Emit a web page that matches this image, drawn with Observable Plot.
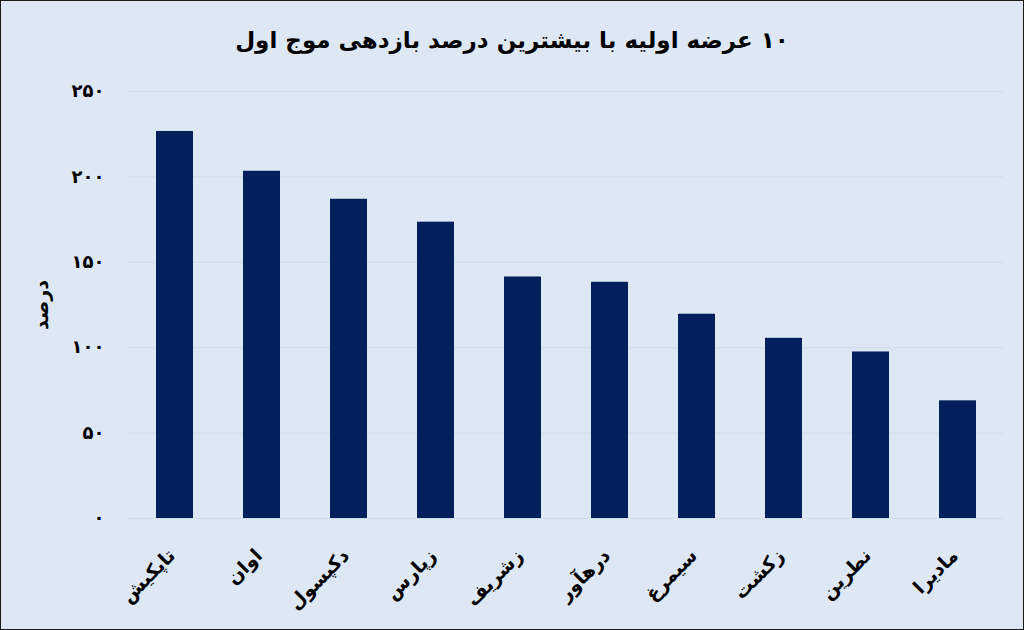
<!DOCTYPE html>
<html>
<head>
<meta charset="utf-8">
<script src="https://cdn.jsdelivr.net/npm/d3@7"></script>
<script src="https://cdn.jsdelivr.net/npm/@observablehq/plot@0.6"></script>
<style>
  html, body { margin: 0; padding: 0; background: #dde8f4; }
  #frame {
    width: 1024px; height: 630px; box-sizing: border-box;
    border: 1px solid #1a1a1a; background: #dde8f4; overflow: hidden; position: relative;
  }
  #title {
    height: 61px; line-height: 78px; text-align: center;
    font-family: "DejaVu Sans", sans-serif; font-weight: bold; font-size: 23px; color: #000;
    direction: rtl;
  }
  svg { display: block; }
</style>
</head>
<body>
<div id="frame">
  <div id="title">۱۰ عرضه اولیه با بیشترین درصد بازدهی موج اول</div>
  <div id="chart"></div>
</div>
<script>
const companies = ["تاپکیش", "اوان", "دکپسول", "زپارس", "زشریف", "درهآور", "سیمرغ", "زکشت", "نطرین", "مادیرا"];
const returns = [226.6, 203.3, 186.9, 173.5, 141.4, 138.3, 119.6, 105.5, 97.5, 68.9];
const yTicks = [0, 50, 100, 150, 200, 250];
const yLabel = "درصد";

const faDigits = "۰۱۲۳۴۵۶۷۸۹";
const fa = d => String(d).replace(/\d/g, c => faDigits[c]);

const data = companies.map((name, i) => ({name, value: returns[i]}));

const chart = Plot.plot({
  width: 1022,
  height: 567,
  marginLeft: 127,
  marginRight: 20,
  marginTop: 29,
  marginBottom: 111,
  style: {background: "transparent", fontFamily: "DejaVu Sans, sans-serif", color: "#000"},
  x: {domain: companies, paddingInner: 0.58, paddingOuter: 0.29},
  y: {domain: [0, 250]},
  marks: [
    Plot.gridY(yTicks, {stroke: "#d0dcea", strokeOpacity: 1}),
    Plot.barY(data, {x: "name", y: "value", fill: "#03205c"}),
    Plot.axisY({ticks: yTicks, tickSize: 0, tickPadding: 24, tickFormat: fa, fontSize: 18, fontWeight: "bold", label: null}),
    Plot.axisX({tickSize: 0, tickRotate: -45, tickPadding: 34, dx: -3, fontSize: 19, fontWeight: "bold", label: null}),
    Plot.text([yLabel], {frameAnchor: "left", textAnchor: "middle", dx: -87, rotate: -90, fontSize: 19, fontWeight: "bold", fill: "#000"})
  ]
});
document.getElementById("chart").appendChild(chart);
</script>
</body>
</html>
